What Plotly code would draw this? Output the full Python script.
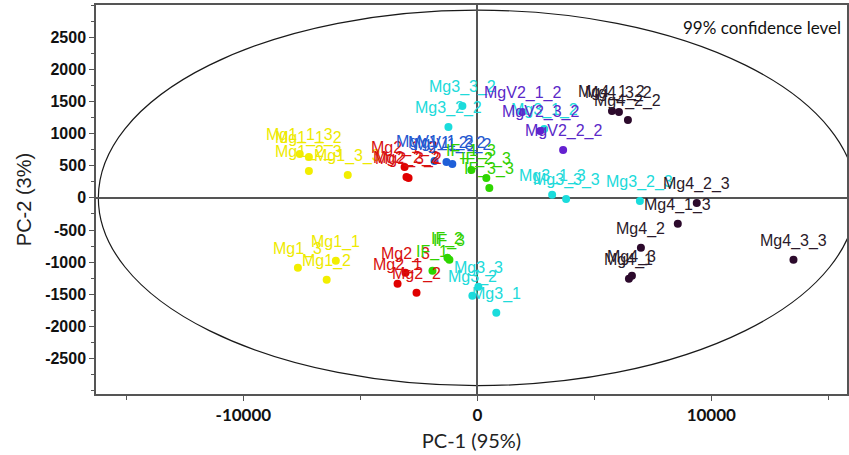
import plotly.graph_objects as go

# ---- data (PC-1, PC-2 scores) ----
mg1_names = ["Mg1_1_3", "Mg1_1_2", "Mg1_2_3", "Mg1_3_3", "Mg1_3", "Mg1_1", "Mg1_2"]
mg1_x = [-7590, -7200, -7200, -5540, -7670, -6050, -6440]
mg1_y = [683, 637, 419, 357, -1087, -978, -1273]

mg2_names = ["Mg2_1_2", "Mg2_2_2", "Mg2_3_2", "Mg2_3", "Mg2_1", "Mg2_2"]
mg2_x = [-3110, -3030, -2940, -3070, -3410, -2600]
mg2_y = [481, 326, 311, -1165, -1335, -1475]

mgv1_names = ["MgV1_1_2", "MgV1_2_2", "MgV1_3_2"]
mgv1_x = [-1830, -1320, -1070]
mgv1_y = [575, 559, 528]

if_names = ["IF_1_3", "IF_2_3", "IF_3_3", "IF_1", "IF_2", "IF_3"]
if_x = [-256, 384, 512, -1918, -1279, -1194]
if_y = [435, 311, 155, -1134, -932, -963]

mg3_names = ["Mg3_3_2", "Mg3_2_2", "Mg3_1_2", "Mg3_1_3", "Mg3_3_3", "Mg3_2_3", "Mg3_3", "Mg3_2", "Mg3_1"]
mg3_x = [-640, -1236, 2856, 3197, 3794, 6948, 43, -213, 810]
mg3_y = [1429, 1102, 1071, 47, -16, -47, -1382, -1522, -1786]

mgv2_names = ["MgV2_1_2", "MgV2_3_2", "MgV2_2_2"]
mgv2_x = [1918, 2685, 3666]
mgv2_y = [1335, 1040, 745]

mg4_names = ["Mg4_1_2", "Mg4_3_2", "Mg4_2_2", "Mg4_2_3", "Mg4_1_3", "Mg4_2", "Mg4_3_3", "Mg4_1", "Mg4_3"]
mg4_x = [5754, 6053, 6436, 9378, 8568, 6991, 13512, 6479, 6607]
mg4_y = [1351, 1335, 1211, -78, -404, -776, -963, -1258, -1211]

# tick labels
x_tickvals = [-10000, 0, 10000]
x_ticktext = ["-10000", "0", "10000"]
y_tickvals = [2500, 2000, 1500, 1000, 500, 0, -500, -1000, -1500, -2000, -2500]
y_ticktext = ["2500", "2000", "1500", "1000", "500", "0", "-500", "-1000", "-1500", "-2000", "-2500"]

# confidence ellipse semi-axes (99%)
ellipse_a = 16200
ellipse_b = 2920

groups = [
    (mg1_names, mg1_x, mg1_y, "#f2ee00", "#eeea00"),
    (mg2_names, mg2_x, mg2_y, "#e00000", "#d81010"),
    (mgv1_names, mgv1_x, mgv1_y, "#1f5fd8", "#2458d0"),
    (if_names, if_x, if_y, "#2ed600", "#30d000"),
    (mg3_names, mg3_x, mg3_y, "#1adcdc", "#20dada"),
    (mgv2_names, mgv2_x, mgv2_y, "#6420d0", "#5a28c8"),
    (mg4_names, mg4_x, mg4_y, "#2c0a2c", "#2a1a2a"),
]

fig = go.Figure()

fig.add_shape(type="circle", xref="x", yref="y",
              x0=-ellipse_a, x1=ellipse_a, y0=-ellipse_b, y1=ellipse_b,
              line=dict(color="#1a1a1a", width=1.2), layer="below")

annotations = []
for names, xs, ys, mcol, tcol in groups:
    fig.add_trace(go.Scatter(x=xs, y=ys, mode="markers",
                             marker=dict(color=mcol, size=8, line=dict(width=0)),
                             showlegend=False, hoverinfo="text", text=names))
    for n, xv, yv in zip(names, xs, ys):
        annotations.append(dict(x=xv, y=yv, xref="x", yref="y", text=n,
                                showarrow=False, yshift=19,
                                font=dict(family="Arial", size=16, color=tcol)))

annotations.append(dict(x=0.995, y=0.943, xref="paper", yref="paper",
                        xanchor="right", yanchor="middle", showarrow=False,
                        text="99% confidence level",
                        font=dict(family="Lato", size=17, color="#111")))

fig.update_layout(
    width=849, height=455,
    margin=dict(l=96, r=0, t=5, b=61),
    paper_bgcolor="white", plot_bgcolor="white",
    annotations=annotations,
    showlegend=False,
)

fig.update_xaxes(
    range=[-16300, 15800], tickmode="array", tickvals=x_tickvals, ticktext=x_ticktext,
    ticks="outside", ticklen=5, tickcolor="#555",
    minor=dict(dtick=5000, tick0=0, ticks="outside", ticklen=4, tickcolor="#555"),
    showline=True, linecolor="#555", linewidth=1.5, mirror=True,
    zeroline=True, zerolinecolor="#555", zerolinewidth=1.5,
    showgrid=False,
    tickfont=dict(family="Lato", size=17, color="#111", weight="bold"),
    title=dict(text="PC-1 (95%)", font=dict(family="Lato", size=20, color="#222"), standoff=10),
)
fig.update_yaxes(
    range=[-3050, 3000], tickmode="array", tickvals=y_tickvals, ticktext=y_ticktext,
    ticks="outside", ticklen=5, tickcolor="#555",
    minor=dict(dtick=250, tick0=0, ticks="outside", ticklen=3, tickcolor="#555"),
    showline=True, linecolor="#555", linewidth=1.5, mirror=True,
    zeroline=True, zerolinecolor="#555", zerolinewidth=1.5,
    showgrid=False,
    tickfont=dict(family="Arial", size=16, color="#111", weight="bold"),
    title=dict(text="PC-2 (3%)", font=dict(family="Arial", size=20, color="#222"), standoff=8),
)

fig.write_html("out.html")
